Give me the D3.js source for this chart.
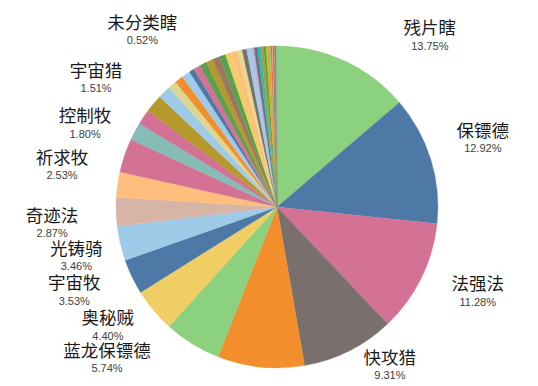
<!DOCTYPE html>
<meta charset="utf-8">
<style>
body { margin: 0; background: #fff; }
svg { display: block; }
.name { font: 17.5px "Noto Sans CJK SC", sans-serif; fill: #1a1a1a; }
.pct { font: 11px "Liberation Sans", Arial, sans-serif; fill: #404040; }
</style>
<svg width="538" height="386"></svg>
<script src="https://d3js.org/d3.v7.min.js"></script>
<script>
// slice names (blank = label not shown in the chart)
var names = ["残片瞎", "保镖德", "法强法", "快攻猎", "", "蓝龙保镖德", "奥秘贼", "宇宙牧", "光铸骑", "奇迹法",
  "祈求牧", "", "控制牧", "宇宙猎", "", "", "", "", "", "未分类瞎",
  "", "", "", "", "", "", "", "", "", "",
  "", "", "", "", "", "", "", "", "", "",
  "", "", "", "", ""];
// share of decks, percent
var shares = [13.75, 12.92, 11.28, 9.31, 8.70, 5.74, 4.40, 3.53, 3.46, 2.87,
  2.53, 3.40, 1.80, 1.51, 1.80, 1.30, 0.85, 0.85, 0.85, 0.52,
  0.70, 0.70, 0.70, 0.70, 0.65, 0.60, 0.60, 0.50, 0.45, 0.40,
  0.35, 0.35, 0.30, 0.30, 0.25, 0.20, 0.15, 0.12, 0.12, 0.10,
  0.10, 0.08, 0.08, 0.07, 0.06];
var colors = ["#8cd17d", "#4e79a7", "#d37295", "#79706e", "#f28e2b", "#8cd17d", "#f1ce63", "#4e79a7", "#a0cbe8", "#d7b5a6",
  "#ffbe7d", "#d37295", "#86bcb6", "#d37295", "#b6992d", "#a0cbe8", "#dcd68e", "#f28e2b", "#a0cbe8", "#4e79a7",
  "#d37295", "#59a14f", "#b6992d", "#9d7660", "#59a14f", "#f1ce63", "#ffbe7d", "#e8d88a", "#79706e", "#a0cbe8",
  "#b9b7e0", "#79706e", "#17becf", "#b6992d", "#59a14f", "#bcbd22", "#f28e2b", "#8cd17d", "#e15759", "#ff9d9a",
  "#79706e", "#b6992d", "#59a14f", "#9d7660", "#86bcb6"];

// label nudges from the default label ring, [dx, dy]
var labelShift = {
  "残片瞎": [67, 15], "保镖德": [10, -8], "法强法": [17, -6], "快攻猎": [21, -25],
  "蓝龙保镖德": [-62, -23], "奥秘贼": [-12, -13], "宇宙牧": [-18, -5], "光铸骑": [-1, 3],
  "奇迹法": [-20, 10], "祈求牧": [-12, -13], "控制牧": [-11, 13], "宇宙猎": [-11, -14],
  "未分类瞎": [-26, -3]
};

var svg = d3.select("svg");
var cx = 277, cy = 207, radius = 161;

var data = shares.map(function(v, i) { return {name: names[i], value: v, color: colors[i]}; });
var total = d3.sum(shares);
var fmt = d3.format(".2%");

var pie = d3.pie().sort(null).value(function(d) { return d.value; });
var arc = d3.arc().innerRadius(0).outerRadius(radius);
var labelArc = d3.arc().innerRadius(205).outerRadius(205);

var g = svg.append("g").attr("transform", "translate(" + cx + "," + cy + ")");
var arcs = pie(data);

g.selectAll("path.slice")
  .data(arcs)
  .enter().append("path")
    .attr("class", "slice")
    .attr("d", arc)
    .attr("fill", function(d) { return d.data.color; })
    .attr("stroke", function(d) { return d.data.color; })
    .attr("stroke-width", 0.3);

var lab = g.selectAll("g.lab")
  .data(arcs.filter(function(d) { return d.data.name; }))
  .enter().append("g")
    .attr("class", "lab")
    .attr("transform", function(d) {
      var c = labelArc.centroid(d), s = labelShift[d.data.name] || [0, 0];
      return "translate(" + (c[0] + s[0]) + "," + (c[1] + s[1]) + ")";
    });

lab.append("text")
  .attr("class", "name")
  .attr("text-anchor", "middle")
  .attr("y", -1.5)
  .text(function(d) { return d.data.name; });

lab.append("text")
  .attr("class", "pct")
  .attr("text-anchor", "middle")
  .attr("y", 14)
  .text(function(d) { return fmt(d.data.value / total); });
</script>
